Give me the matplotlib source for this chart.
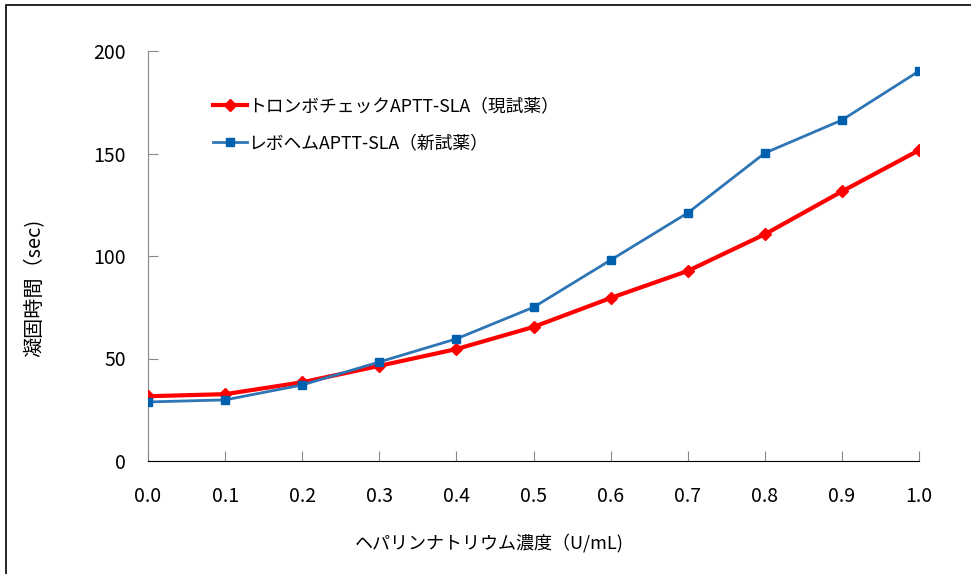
import matplotlib
matplotlib.use("Agg")
import matplotlib.pyplot as plt
from matplotlib.patches import Rectangle

plt.rcParams['font.family'] = ['Noto Sans CJK JP', 'DejaVu Sans']

x = [0.0, 0.1, 0.2, 0.3, 0.4, 0.5, 0.6, 0.7, 0.8, 0.9, 1.0]
current = [31.6, 32.6, 38.4, 46.4, 54.6, 65.4, 79.5, 92.7, 110.6, 131.5, 151.6]
new = [28.8, 29.8, 37.1, 48.3, 59.6, 75.0, 98.0, 121.0, 150.2, 166.3, 190.2]
label_current = 'トロンボチェックAPTT-SLA（現試薬）'
label_new = 'レボヘムAPTT-SLA（新試薬）'
xlabel = 'ヘパリンナトリウム濃度（U/mL)'
ylabel = '凝固時間（sec)'
xticks = [0.0, 0.1, 0.2, 0.3, 0.4, 0.5, 0.6, 0.7, 0.8, 0.9, 1.0]
yticks = [0, 50, 100, 150, 200]

fig = plt.figure(figsize=(9.71, 5.74), dpi=100)
ax = fig.add_axes([148/971, 113/574, (919-148)/971, (461-51)/574])

ax.plot(x, current, color='#FF0000', lw=3, marker='D', ms=6.5, mec='#FF0000', mfc='#FF0000',
        label=label_current, zorder=3)
ax.plot(x, new, color='#2E75B6', lw=2, marker='s', ms=6, mec='#0060B0', mfc='#0060B0',
        label=label_new, zorder=4)

ax.set_xlim(0, 1.0)
ax.set_ylim(0, 200)
ax.set_xticks(xticks)
ax.set_xticklabels([f'{v:.1f}' for v in xticks])
ax.set_yticks(yticks)
ax.tick_params(axis='both', direction='in', length=7, labelsize=14, colors='#888888', labelcolor='black')
ax.tick_params(axis='x', pad=18)
ax.tick_params(axis='y', pad=16)
ax.spines['top'].set_visible(False)
ax.spines['right'].set_visible(False)
ax.spines['left'].set_color('#888888')
ax.spines['bottom'].set_color('black')

fig.text(489/971, 1 - 543/574, xlabel, fontsize=13, ha='center', va='center')
fig.text(35/971, 1 - 288/574, ylabel, fontsize=14.5, ha='center', va='center', rotation=90)

leg = ax.legend(loc='upper left', bbox_to_anchor=(0.075, 0.905), frameon=False, fontsize=12.8,
                handlelength=1.9, handletextpad=0.1, labelspacing=1.1, borderaxespad=0)

fig.patches.append(Rectangle((6/971, -0.1), 1.2, (574-5)/574 + 0.1, transform=fig.transFigure,
                             fill=False, edgecolor='black', lw=1.2))

fig.savefig('out.png', dpi=100)
